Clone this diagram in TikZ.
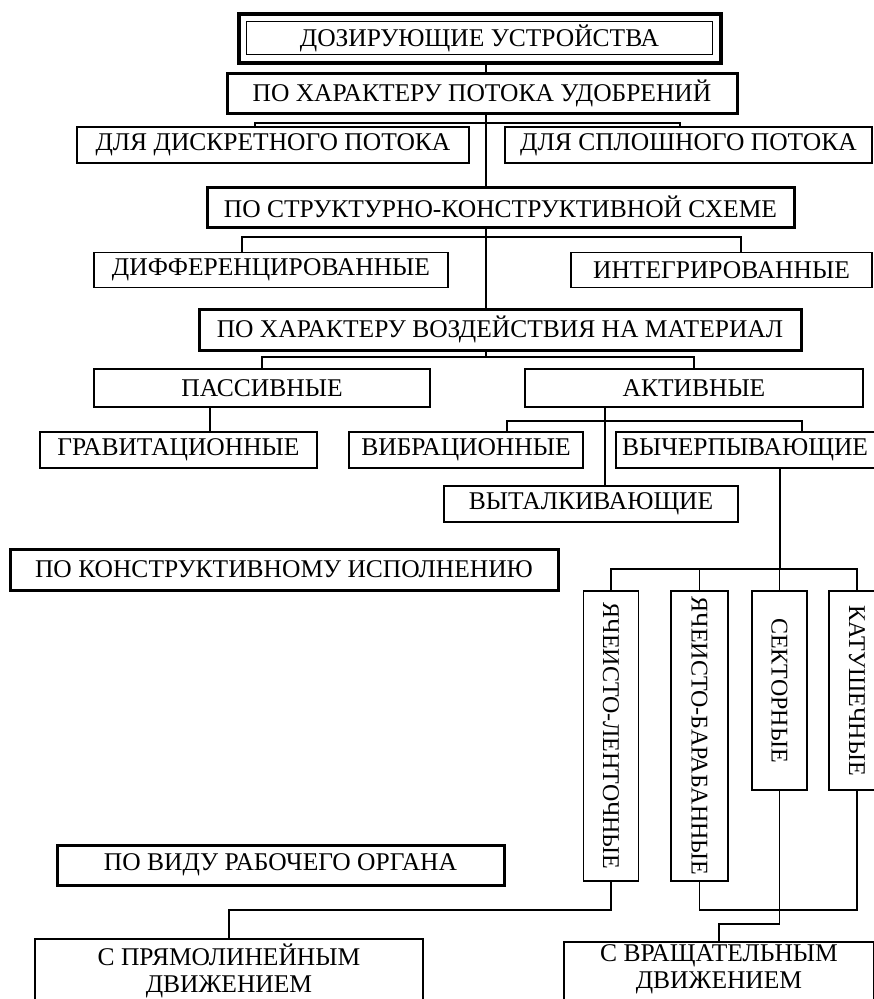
\documentclass[tikz,border=0pt]{standalone}
\usepackage{fontspec}
\setmainfont{Liberation Serif}
\begin{document}
\begin{tikzpicture}[x=1pt,y=-1pt,
  box/.style={draw,line width=1.3pt,inner sep=0pt,font=\fontsize{25.5}{29}\selectfont,align=center},
  vbox/.style={box,font=\fontsize{24}{28}\selectfont},
  hbox/.style={box,line width=3pt},
  conn/.style={line width=1.3pt}]
\useasboundingbox (0,0) rectangle (874,999);
\clip (0,0) rectangle (874,999);
% helper coordinates
\coordinate (tr) at (486,0);
% level nodes
\node[box,line width=4pt,minimum width=482,minimum height=49] (title) at (479.5,38) {};
\node[box,line width=1pt,minimum width=466,minimum height=33] (titlein) at (479.5,38) {ДОЗИРУЮЩИЕ УСТРОЙСТВА};
\node[hbox,minimum width=510,minimum height=40] (b2) at (482,93) {ПО ХАРАКТЕРУ ПОТОКА УДОБРЕНИЙ};
\node[box,minimum width=392,minimum height=36] (d1) at (273,145) {ДЛЯ ДИСКРЕТНОГО ПОТОКА};
\node[box,minimum width=367,minimum height=36] (d2) at (688.5,145) {ДЛЯ СПЛОШНОГО ПОТОКА};
\node[hbox,minimum width=587,minimum height=40] (b3) at (500.5,207) {ПО СТРУКТУРНО-КОНСТРУКТИВНОЙ СХЕМЕ};
\node[box,minimum width=354,minimum height=35] (s1) at (271,270) {ДИФФЕРЕНЦИРОВАННЫЕ};
\node[box,minimum width=301,minimum height=35] (s2) at (721.5,270) {ИНТЕГРИРОВАННЫЕ};
\node[hbox,minimum width=602,minimum height=41] (b4) at (500,329.5) {ПО ХАРАКТЕРУ ВОЗДЕЙСТВИЯ НА МАТЕРИАЛ};
\node[box,minimum width=336,minimum height=38] (pas) at (262,388) {ПАССИВНЫЕ};
\node[box,minimum width=338,minimum height=38] (akt) at (694,388) {АКТИВНЫЕ};
\node[box,minimum width=277,minimum height=36] (grav) at (178.5,450) {ГРАВИТАЦИОННЫЕ};
\node[box,minimum width=234,minimum height=36] (vib) at (466,450) {ВИБРАЦИОННЫЕ};
\node[box,minimum width=270,minimum height=36] (vych) at (751,450) {ВЫЧЕРПЫВАЮЩИЕ\hspace*{12pt}};
\node[box,minimum width=294,minimum height=36] (vyt) at (591,504) {ВЫТАЛКИВАЮЩИЕ};
\node[hbox,minimum width=548,minimum height=41] (b5) at (284,569.5) {ПО КОНСТРУКТИВНОМУ ИСПОЛНЕНИЮ};
\node[vbox,minimum width=55,minimum height=290] (r1) at (611,736) {\rotatebox{-90}{ЯЧЕИСТО-ЛЕНТОЧНЫЕ}};
\node[vbox,minimum width=57,minimum height=290] (r2) at (699.5,736) {\rotatebox{-90}{ЯЧЕИСТО-БАРАБАННЫЕ}};
\node[vbox,minimum width=55,minimum height=199] (r3) at (779.5,690.5) {\rotatebox{-90}{СЕКТОРНЫЕ}};
\node[vbox,minimum width=56,minimum height=199] (r4) at (857,690.5) {\rotatebox{-90}{КАТУШЕЧНЫЕ}};
\node[hbox,minimum width=447,minimum height=40] (b6) at (280.5,865) {ПО ВИДУ РАБОЧЕГО ОРГАНА};
\node[box,minimum width=388,minimum height=70] (m1) at (229,974) {};
\node[box,minimum width=310,minimum height=70] (m2) at (719,977) {};
\node[box,draw=none,anchor=north,font=\fontsize{25.5}{27}\selectfont] (m1t) at (229,943) {С ПРЯМОЛИНЕЙНЫМ\\ДВИЖЕНИЕМ};
\node[box,draw=none,anchor=north,font=\fontsize{25.5}{27}\selectfont] (m2t) at (719,944) {С ВРАЩАТЕЛЬНЫМ\\ДВИЖЕНИЕМ};
% coordinates for bars and drops
\coordinate (h1) at (0,123);
\coordinate (h2) at (0,237);
\coordinate (h3) at (0,357);
\coordinate (h4) at (0,421);
\coordinate (h5) at (0,569);
\coordinate (h6) at (0,910);
\coordinate (h7) at (0,924);
\coordinate (x255) at (255,0);
\coordinate (x680) at (680,0);
\coordinate (x242) at (242,0);
\coordinate (x741) at (741,0);
\coordinate (x210) at (210,0);
\coordinate (x605) at (605,0);
\coordinate (x507) at (507,0);
\coordinate (x802) at (802,0);
\coordinate (x780) at (780,0);
\coordinate (x229) at (229,0);
\coordinate (x719) at (719,0);
% trunk
\draw[conn] (title.south -| tr) -- (b2.north -| tr);
\draw[conn] (b2.south -| tr) -- (b3.north -| tr);
\draw[conn] (b3.south -| tr) -- (b4.north -| tr);
% bars
\draw[conn] (d1.north -| x255) |- (h1 -| tr) -| (d2.north -| x680);
\draw[conn] (s1.north -| x242) |- (h2 -| tr) -| (s2.north -| x741);
\draw[conn] (pas.north) |- (h3 -| tr) -| (akt.north);
\draw[conn] (b4.south -| tr) -- (h3 -| tr);
\draw[conn] (pas.south -| x210) -- (grav.north -| x210);
\draw[conn] (akt.south -| x605) -- (vyt.north -| x605);
\draw[conn] (vib.north -| x507) |- (h4 -| x605) -| (vych.north -| x802);
\draw[conn] (vych.south -| x780) -- (h5 -| x780);
\draw[conn] (r1.north) |- (h5 -| x780) -| (r4.north);
\draw[conn] (r2.north) -- (r2.north |- h5);
\draw[conn] (r3.north) -- (r3.north |- h5);
% lower connectors
\draw[conn] (r1.south) |- (h6 -| x229) -- (m1.north -| x229);
\draw[conn] (r2.south) |- (h6 -| r4.south) -- (r4.south);
\draw[conn] (r3.south) |- (h7 -| x719) -- (m2.north -| x719);
\end{tikzpicture}
\end{document}
